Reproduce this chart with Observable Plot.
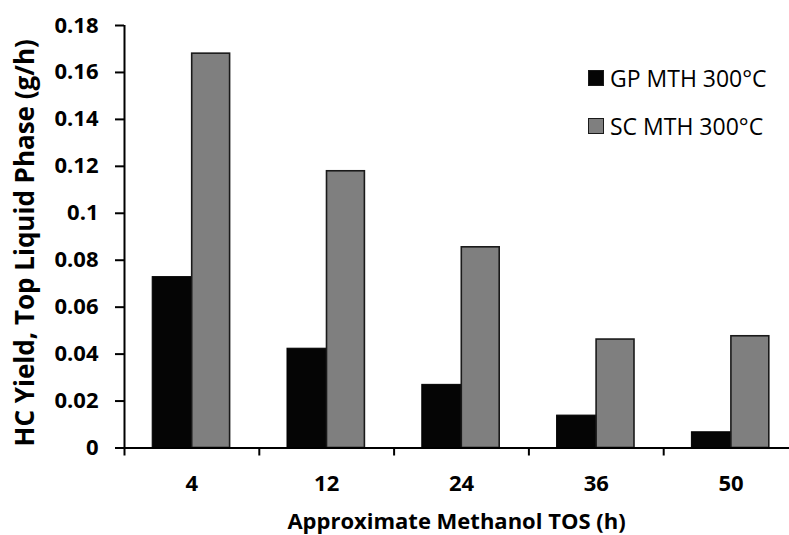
<!DOCTYPE html>
<html><head><meta charset="utf-8">
<script src="https://cdn.jsdelivr.net/npm/d3@7"></script>
<script src="https://cdn.jsdelivr.net/npm/@observablehq/plot@0.6"></script>
<style>
html,body{margin:0;padding:0;background:#fff;overflow:hidden;}
#wrap{position:relative;width:798px;height:535px;}
.lg{position:absolute;display:flex;align-items:center;font-family:"Open Sans",sans-serif;font-size:23px;line-height:23px;color:#000;white-space:nowrap;}
.sw{width:16px;height:16px;box-sizing:border-box;border:1.5px solid #1a1a1a;margin-right:6px;}
</style></head><body><div id="wrap"></div>
<script>
const categories = ["4", "12", "24", "36", "50"];
const seriesNames = ["GP MTH 300°C", "SC MTH 300°C"];
const gpValues = [0.0728, 0.0423, 0.0269, 0.0138, 0.0067];
const scValues = [0.168, 0.1179, 0.0855, 0.0462, 0.0476];
const yTicks = [0, 0.02, 0.04, 0.06, 0.08, 0.1, 0.12, 0.14, 0.16, 0.18];
const yTickLabels = ["0", "0.02", "0.04", "0.06", "0.08", "0.1", "0.12", "0.14", "0.16", "0.18"];
const seriesColors = ["#050505", "#7f7f7f"];
const yTitle = "HC Yield, Top Liquid Phase (g/h)";
const xTitle = "Approximate Methanol TOS (h)";

const gpRows = categories.map((c, i) => ({tos: c, series: seriesNames[0], value: gpValues[i]}));
const scRows = categories.map((c, i) => ({tos: c, series: seriesNames[1], value: scValues[i]}));

const W = 798, H = 535, ML = 124;
const bw = (W - ML) / categories.length;

const chart = Plot.plot({
  width: W, height: H,
  marginLeft: ML, marginRight: 0, marginTop: 25, marginBottom: 87.5,
  style: {fontFamily: "'Open Sans', sans-serif", fontSize: "22px", fontWeight: "bold", color: "#000", background: "#fff", overflow: "visible"},
  x: {domain: categories, padding: 0, round: false, axis: null},
  y: {domain: [0, 0.18], axis: null},
  marks: [
    Plot.barY(gpRows, {x: "tos", y: "value", fill: seriesColors[0], stroke: "#000", strokeWidth: 1, insetLeft: 28.2, insetRight: 67}),
    Plot.barY(scRows, {x: "tos", y: "value", fill: seriesColors[1], stroke: "#1a1a1a", strokeWidth: 1.6, insetLeft: 67.7, insetRight: 29.2}),
    Plot.ruleY([0], {strokeWidth: 2}),
    Plot.ruleX([categories[0]], {dx: -bw / 2, strokeWidth: 2}),
    Plot.axisY({ticks: yTicks, tickFormat: d => yTickLabels[yTicks.indexOf(d)], tickSize: 9, tickPadding: 17, strokeWidth: 2, label: null}),
    Plot.axisX({tickSize: 0, tickPadding: 27.5, label: null}),
    Plot.axisX({tickSize: 8, tickFormat: () => "", dx: -bw / 2, strokeWidth: 2, label: null}),
    Plot.text([yTitle], {frameAnchor: "left", textAnchor: "middle", lineAnchor: "middle", rotate: -90, dx: -99, dy: 6, fontSize: 26, fontWeight: "bold"}),
    Plot.text([xTitle], {frameAnchor: "bottom", textAnchor: "middle", lineAnchor: "top", dx: -5, dy: 65, fontSize: 22, fontWeight: "bold"})
  ]
});
const wrap = document.getElementById("wrap");
wrap.appendChild(chart);

const legendTops = [66.5, 114.5];
seriesNames.forEach((name, i) => {
  const row = d3.select(wrap).append("div").attr("class", "lg")
    .style("left", "588px").style("top", legendTops[i] + "px");
  row.append("div").attr("class", "sw").style("background", seriesColors[i]);
  row.append("span").text(name);
});
</script></body></html>
